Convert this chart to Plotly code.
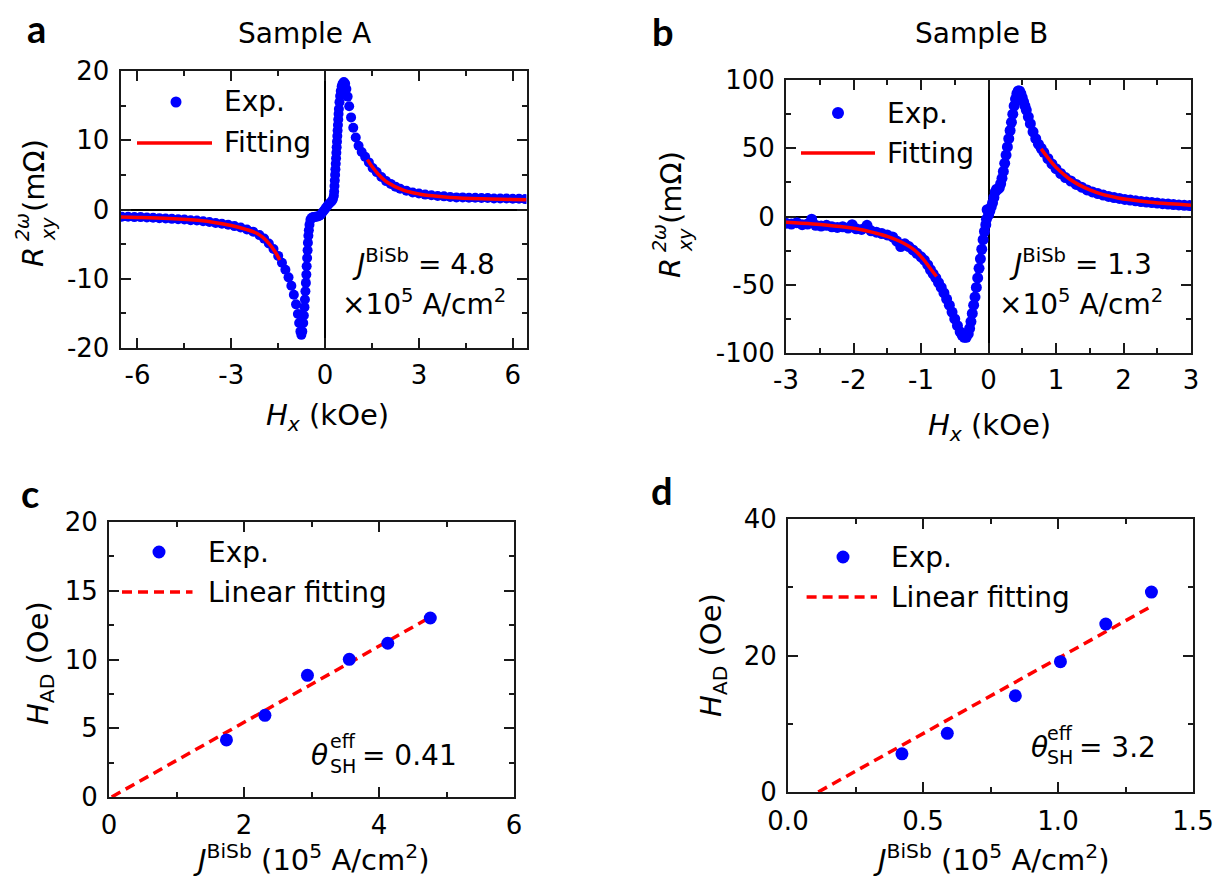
import plotly.graph_objects as go

W, H = 1232, 881
FONT = "DejaVu Sans"
BLUE = "#0000ff"
RED = "#ff0000"
AX = "#1a1a1a"

# ---------------- Panel a: Sample A, R_xy^2w vs Hx ----------------
a_exp_hx = [-6.5, -6.3, -6.1, -5.9, -5.7, -5.5, -5.3, -5.1, -4.9, -4.7, -4.5, -4.3, -4.1,
            -3.9, -3.7, -3.5, -3.3, -3.1, -2.9, -2.7, -2.5, -2.3, -2.1, -1.95, -1.8, -1.65,
            -1.5, -1.38, -1.27, -1.17, -1.08, -1.0, -0.93, -0.87, -0.83, -0.79, -0.76, -0.73,
            -0.70, -0.68, -0.66, -0.645, -0.63, -0.615, -0.60, -0.59, -0.575, -0.56, -0.55,
            -0.535, -0.52, -0.50, -0.47, -0.43, -0.38, -0.33, -0.28, -0.23, -0.18, -0.13,
            -0.08, -0.03, 0.02, 0.07, 0.12, 0.17, 0.21, 0.25, 0.28, 0.29, 0.30, 0.31, 0.32,
            0.33, 0.34, 0.35, 0.36, 0.37, 0.38, 0.39, 0.40, 0.41, 0.42, 0.43, 0.44, 0.46,
            0.48, 0.50, 0.53, 0.56, 0.60, 0.64, 0.68, 0.72, 0.77, 0.83, 0.90, 0.98, 1.07,
            1.17, 1.28, 1.40, 1.52, 1.65, 1.8, 1.95, 2.1, 2.25, 2.4, 2.6, 2.8, 3.0, 3.2, 3.4,
            3.6, 3.8, 4.0, 4.2, 4.4, 4.6, 4.8, 5.0, 5.2, 5.4, 5.6, 5.8, 6.0, 6.2, 6.4]
a_exp_r = [-1.05, -1.05, -1.1, -1.1, -1.15, -1.2, -1.25, -1.3, -1.35, -1.4, -1.45, -1.55, -1.6,
           -1.7, -1.8, -1.95, -2.05, -2.2, -2.4, -2.6, -2.9, -3.2, -3.7, -4.2, -4.9, -5.7,
           -6.7, -7.7, -8.7, -9.8, -11.0, -12.3, -13.7, -15.1, -16.4, -17.6, -18.1, -17.6,
           -16.4, -15.3, -14.1, -13.0, -11.8, -10.6, -9.4, -8.2, -7.0, -5.9, -4.8,
           -3.8, -3.0, -2.2, -1.5, -1.2, -1.1, -1.1, -1.0, -1.0, -0.9, -0.7,
           -0.4, -0.1, 0.2, 0.5, 0.8, 1.0, 1.2, 1.5, 2.0, 2.6, 3.4, 4.2, 5.0,
           5.8, 6.6, 7.4, 8.2, 9.0, 9.8, 10.6, 11.4, 12.2, 13.0, 13.8, 14.5, 15.5,
           16.4, 17.1, 17.8, 18.2, 18.4, 18.2, 17.4, 16.3, 14.9, 13.3, 11.8, 10.4, 9.2,
           8.3, 7.6, 6.8, 6.0, 5.4, 4.7, 4.1, 3.7, 3.3, 3.0, 2.7, 2.45, 2.3, 2.15, 2.05,
           1.95, 1.9, 1.8, 1.75, 1.75, 1.7, 1.7, 1.65, 1.65, 1.6, 1.6, 1.6, 1.55, 1.55, 1.5]
a_fit_neg_hx = [-6.54, -6.0, -5.0, -4.0, -3.5, -3.0, -2.5, -2.2, -2.0, -1.8, -1.6, -1.45]
a_fit_neg_r = [-1.1, -1.15, -1.3, -1.6, -1.9, -2.3, -2.9, -3.4, -4.0, -4.9, -6.1, -7.3]
a_fit_pos_hx = [1.35, 1.5, 1.7, 2.0, 2.5, 3.0, 3.5, 4.0, 5.0, 6.0, 6.44]
a_fit_pos_r = [7.2, 6.2, 5.1, 3.9, 2.8, 2.25, 1.95, 1.75, 1.55, 1.45, 1.4]

# ---------------- Panel b: Sample B, R_xy^2w vs Hx ----------------
b_exp_hx = [-3.0, -2.92, -2.84, -2.76, -2.68, -2.62, -2.56, -2.48, -2.4, -2.32, -2.24, -2.16,
            -2.08, -2.02, -1.96, -1.88, -1.8, -1.74, -1.66, -1.58, -1.5, -1.42, -1.36, -1.3,
            -1.24, -1.18, -1.12, -1.06, -1.0, -0.95, -0.9, -0.86, -0.82, -0.78, -0.74, -0.7,
            -0.66, -0.62, -0.58, -0.54, -0.5, -0.46, -0.42, -0.39, -0.36, -0.33, -0.3, -0.28,
            -0.26, -0.24, -0.22, -0.2, -0.18, -0.16, -0.14, -0.12, -0.1, -0.08, -0.06, -0.04,
            -0.03, -0.02, 0.0, 0.02, 0.04, 0.06, 0.08, 0.1, 0.12, 0.14, 0.16, 0.18, 0.2, 0.22,
            0.24, 0.26, 0.28, 0.3, 0.32, 0.34, 0.36, 0.38, 0.4, 0.42, 0.44, 0.46, 0.48, 0.5,
            0.52, 0.54, 0.56, 0.59, 0.62, 0.66, 0.7, 0.74, 0.78, 0.82, 0.88, 0.94, 1.0, 1.07,
            1.14, 1.22, 1.3, 1.38, 1.46, 1.54, 1.62, 1.7, 1.78, 1.86, 1.94, 2.02, 2.1, 2.18,
            2.26, 2.34, 2.42, 2.5, 2.58, 2.66, 2.74, 2.82, 2.9, 2.98]
b_exp_r = [-5, -5.5, -4.5, -6, -5.5, -2, -6.5, -7, -6.5, -7.5, -8, -7.5,
           -8.5, -6, -9, -9.5, -6.5, -10.5, -11.5, -12.5, -13.5, -15, -18, -22,
           -20, -22, -24.5, -27, -29.5, -32, -35.5, -39, -42, -45, -48.5, -52,
           -56, -60.5, -65, -70, -75, -80, -84.5, -87, -88.5, -88.5, -86, -82,
           -77, -71, -65, -59, -52, -45, -38, -31, -24, -17, -11, -6,
           -2, 5, 1, 4, 7, 10, 14, 18, 20, 20, 21, 24, 28, 33,
           39, 45, 51, 57, 63, 69, 75, 81, 86, 90, 92, 92, 90, 87,
           84, 81, 78, 73, 68, 62, 57, 53, 50, 47, 42.5, 38.5, 35, 31.5,
           28.5, 26, 23.5, 21.5, 19.5, 18, 16.8, 15.7, 14.7, 13.9, 13.2, 12.5, 12, 11.5,
           11, 10.6, 10.2, 9.8, 9.4, 9.1, 8.8, 8.5, 8.2, 8]
b_fit_neg_hx = [-3.0, -2.6, -2.2, -1.9, -1.7, -1.5, -1.3, -1.1, -0.97, -0.87, -0.77]
b_fit_neg_r = [-4.3, -5.5, -7.4, -9.5, -11.8, -14.5, -18.5, -24.5, -31, -37.5, -44]
b_fit_pos_hx = [0.78, 0.85, 0.92, 1.0, 1.1, 1.2, 1.35, 1.5, 1.7, 1.9, 2.1, 2.4, 2.7, 3.0]
b_fit_pos_r = [49.5, 45, 40.5, 36, 31.5, 27.5, 23, 19.5, 16, 13.8, 12.2, 10.5, 9.3, 8.3]

# ---------------- Panel c: Sample A, H_AD vs J ----------------
c_j = [1.74, 2.31, 2.94, 3.56, 4.13, 4.76]
c_had = [4.15, 5.94, 8.85, 10.01, 11.18, 13.02]
c_fit_j = [0.04, 4.75]
c_fit_had = [0.0, 13.05]

# ---------------- Panel d: Sample B, H_AD vs J ----------------
d_j = [0.422, 0.590, 0.842, 1.009, 1.177, 1.346]
d_had = [5.6, 8.6, 14.1, 19.1, 24.6, 29.3]
d_fit_j = [0.112, 1.35]
d_fit_had = [0.0, 27.3]

# ---------------- Tick values / labels ----------------
a_xtick = [-6, -3, 0, 3, 6]
a_xtick_text = ["-6", "-3", "0", "3", "6"]
a_xminor = [-4.5, -1.5, 1.5, 4.5]
a_ytick = [-20, -10, 0, 10, 20]
a_ytick_text = ["-20", "-10", "0", "10", "20"]
a_yminor = [-15, -5, 5, 15]

b_xtick = [-3, -2, -1, 0, 1, 2, 3]
b_xtick_text = ["-3", "-2", "-1", "0", "1", "2", "3"]
b_xminor = [-2.5, -1.5, -0.5, 0.5, 1.5, 2.5]
b_ytick = [-100, -50, 0, 50, 100]
b_ytick_text = ["-100", "-50", "0", "50", "100"]
b_yminor = [-75, -25, 25, 75]

c_xtick = [0, 2, 4, 6]
c_xtick_text = ["0", "2", "4", "6"]
c_xminor = [1, 3, 5]
c_ytick = [0, 5, 10, 15, 20]
c_ytick_text = ["0", "5", "10", "15", "20"]
c_yminor = [2.5, 7.5, 12.5, 17.5]

d_xtick = [0, 0.5, 1.0, 1.5]
d_xtick_text = ["0.0", "0.5", "1.0", "1.5"]
d_xminor = [0.25, 0.75, 1.25]
d_ytick = [0, 20, 40]
d_ytick_text = ["0", "20", "40"]
d_yminor = [10, 30]


def fx(x):
    return x / W


def fy(y):
    return 1 - y / H


def axis(rng, dom, anchor, tv, tt, minor, zero, standoff):
    return dict(
        range=rng, domain=dom, anchor=anchor, showgrid=False, fixedrange=True,
        automargin=False,
        showline=True, linecolor=AX, linewidth=2, mirror="ticks",
        ticks="inside", ticklen=10, tickwidth=2, tickcolor=AX,
        tickmode="array", tickvals=tv, ticktext=tt,
        minor=dict(tickmode="array", tickvals=minor, ticks="inside",
                   ticklen=5, tickwidth=2, tickcolor=AX, showgrid=False),
        zeroline=zero, zerolinecolor="black", zerolinewidth=1.5,
        tickfont=dict(family=FONT, size=26, color="black"),
        ticklabelstandoff=standoff,
    )


fig = go.Figure()

# panel a
fig.add_trace(go.Scatter(x=a_exp_hx, y=a_exp_r, mode="markers", xaxis="x", yaxis="y",
                         marker=dict(color=BLUE, size=10, line=dict(width=0))))
for xs, ys in ((a_fit_neg_hx, a_fit_neg_r), (a_fit_pos_hx, a_fit_pos_r)):
    fig.add_trace(go.Scatter(x=xs, y=ys, mode="lines", xaxis="x", yaxis="y",
                             line=dict(color=RED, width=3.5, shape="spline")))

# panel b
fig.add_trace(go.Scatter(x=b_exp_hx, y=b_exp_r, mode="markers", xaxis="x2", yaxis="y2",
                         marker=dict(color=BLUE, size=11, line=dict(width=0))))
for xs, ys in ((b_fit_neg_hx, b_fit_neg_r), (b_fit_pos_hx, b_fit_pos_r)):
    fig.add_trace(go.Scatter(x=xs, y=ys, mode="lines", xaxis="x2", yaxis="y2",
                             line=dict(color=RED, width=3.5, shape="spline")))

# panel c
fig.add_trace(go.Scatter(x=c_fit_j, y=c_fit_had, mode="lines", xaxis="x3", yaxis="y3",
                         line=dict(color=RED, width=3.5, dash="10px,6px")))
fig.add_trace(go.Scatter(x=c_j, y=c_had, mode="markers", xaxis="x3", yaxis="y3",
                         marker=dict(color=BLUE, size=13, line=dict(width=0))))

# panel d
fig.add_trace(go.Scatter(x=d_fit_j, y=d_fit_had, mode="lines", xaxis="x4", yaxis="y4",
                         line=dict(color=RED, width=3.5, dash="10px,6px")))
fig.add_trace(go.Scatter(x=d_j, y=d_had, mode="markers", xaxis="x4", yaxis="y4",
                         marker=dict(color=BLUE, size=13, line=dict(width=0))))

# plot boxes in pixels (left, right, top, bottom)
box_a = (120.6, 526.5, 71, 348)
box_b = (786, 1191, 80, 353)
box_c = (109, 514, 522, 797)
box_d = (788, 1193, 519, 792)


def dom(b):
    return [fx(b[0]), fx(b[1])], [fy(b[3]), fy(b[2])]


xa, ya = dom(box_a)
xb, yb = dom(box_b)
xc, yc = dom(box_c)
xd, yd = dom(box_d)

fig.update_layout(
    width=W, height=H, margin=dict(l=0, r=0, t=0, b=0, autoexpand=False), autosize=False,
    font=dict(family=FONT, size=28, color="black"),
    paper_bgcolor="white", plot_bgcolor="white", showlegend=False,
    xaxis=axis([-6.54, 6.44], xa, "y", a_xtick, a_xtick_text, a_xminor, True, 3),
    yaxis=axis([-20, 20], ya, "x", a_ytick, a_ytick_text, a_yminor, True, 4),
    xaxis2=axis([-3, 3], xb, "y2", b_xtick, b_xtick_text, b_xminor, True, 3),
    yaxis2=axis([-100, 100], yb, "x2", b_ytick, b_ytick_text, b_yminor, True, 4),
    xaxis3=axis([0, 6], xc, "y3", c_xtick, c_xtick_text, c_xminor, False, 4),
    yaxis3=axis([0, 20], yc, "x3", c_ytick, c_ytick_text, c_yminor, False, 4),
    xaxis4=axis([0, 1.5], xd, "y4", d_xtick, d_xtick_text, d_xminor, False, 5),
    yaxis4=axis([0, 40], yd, "x4", d_ytick, d_ytick_text, d_yminor, False, 4),
)

ann = []


def text(t, x, y, size=28, xanchor="center", angle=0, family=FONT):
    ann.append(dict(text=t, x=fx(x), y=fy(y), xref="paper", yref="paper",
                    showarrow=False, xanchor=xanchor, yanchor="middle",
                    textangle=angle, font=dict(family=family, size=size, color="black")))


shapes = []


def key_dot(x, y, d):
    shapes.append(dict(type="circle", xref="paper", yref="paper",
                       xsizemode="pixel", ysizemode="pixel",
                       xanchor=fx(x), yanchor=fy(y),
                       x0=-d / 2, x1=d / 2, y0=-d / 2, y1=d / 2,
                       fillcolor=BLUE, line=dict(width=0)))


def key_line(x0, x1, y, dash="solid"):
    shapes.append(dict(type="line", xref="paper", yref="paper",
                       x0=fx(x0), x1=fx(x1), y0=fy(y), y1=fy(y),
                       line=dict(color=RED, width=3.5, dash=dash)))


# panel letters
for letter, x, y in (("a", 36, 28), ("b", 663, 31), ("c", 30, 493), ("d", 662, 490)):
    text("<b>%s</b>" % letter, x, y, size=38, family="Lato")

# panel titles
text("Sample A", 304, 33)
text("Sample B", 981, 33)

# panel a texts
text("<i>H</i><sub><i>x</i></sub> (kOe)", 327, 417, size=29)
text("<i>R</i>", 33, 257, size=29, angle=-90)
text("<i>2ω</i>", 22, 227, size=19, angle=-90)
text("<i>xy</i>", 48, 229, size=19, angle=-90)
text("(mΩ)", 34, 176, size=29, angle=-90)
text("<i>J</i><sup>BiSb</sup> = 4.8", 423, 263)
text("×10<sup>5</sup> A/cm<sup>2</sup>", 424, 303)
key_dot(176, 102, 11)
text("Exp.", 222, 102, xanchor="left")
key_line(137, 212, 143)
text("Fitting", 222, 143, xanchor="left")

# panel b texts
text("<i>H</i><sub><i>x</i></sub> (kOe)", 989, 427, size=29)
text("<i>R</i>", 670, 268, size=29, angle=-90)
text("<i>2ω</i>", 659, 238, size=19, angle=-90)
text("<i>xy</i>", 685, 240, size=19, angle=-90)
text("(mΩ)", 671, 187, size=29, angle=-90)
text("<i>J</i><sup>BiSb</sup> = 1.3", 1080, 263)
text("×10<sup>5</sup> A/cm<sup>2</sup>", 1081, 303)
key_dot(838, 113, 12)
text("Exp.", 885, 113, xanchor="left")
key_line(801, 875, 153)
text("Fitting", 885, 153, xanchor="left")

# panel c texts
text("<i>J</i><sup>BiSb</sup> (10<sup>5</sup> A/cm<sup>2</sup>)", 311, 858, size=29)
text("<i>H</i><sub>AD</sub> (Oe)", 40, 663, size=29, angle=-90)
key_dot(159, 552, 13)
text("Exp.", 206, 552, xanchor="left")
key_line(122, 192.5, 592, dash="10px,6px")
text("Linear fitting", 206, 592, xanchor="left")
text("<i>θ</i>", 319, 755)
text("eff", 343, 741, size=19)
text("SH", 343, 766, size=19)
text("= 0.41", 360, 755, xanchor="left")

# panel d texts
text("<i>J</i><sup>BiSb</sup> (10<sup>5</sup> A/cm<sup>2</sup>)", 991, 858, size=29)
text("<i>H</i><sub>AD</sub> (Oe)", 713, 655, size=29, angle=-90)
key_dot(843, 557, 13)
text("Exp.", 889, 557, xanchor="left")
key_line(806.6, 877, 597, dash="10px,6px")
text("Linear fitting", 889, 597, xanchor="left")
text("<i>θ</i>", 1039, 747)
text("eff", 1060, 733, size=19)
text("SH", 1060, 757, size=19)
text("= 3.2", 1077, 747, xanchor="left")

fig.update_layout(annotations=ann, shapes=shapes)
fig.write_html("out.html")
